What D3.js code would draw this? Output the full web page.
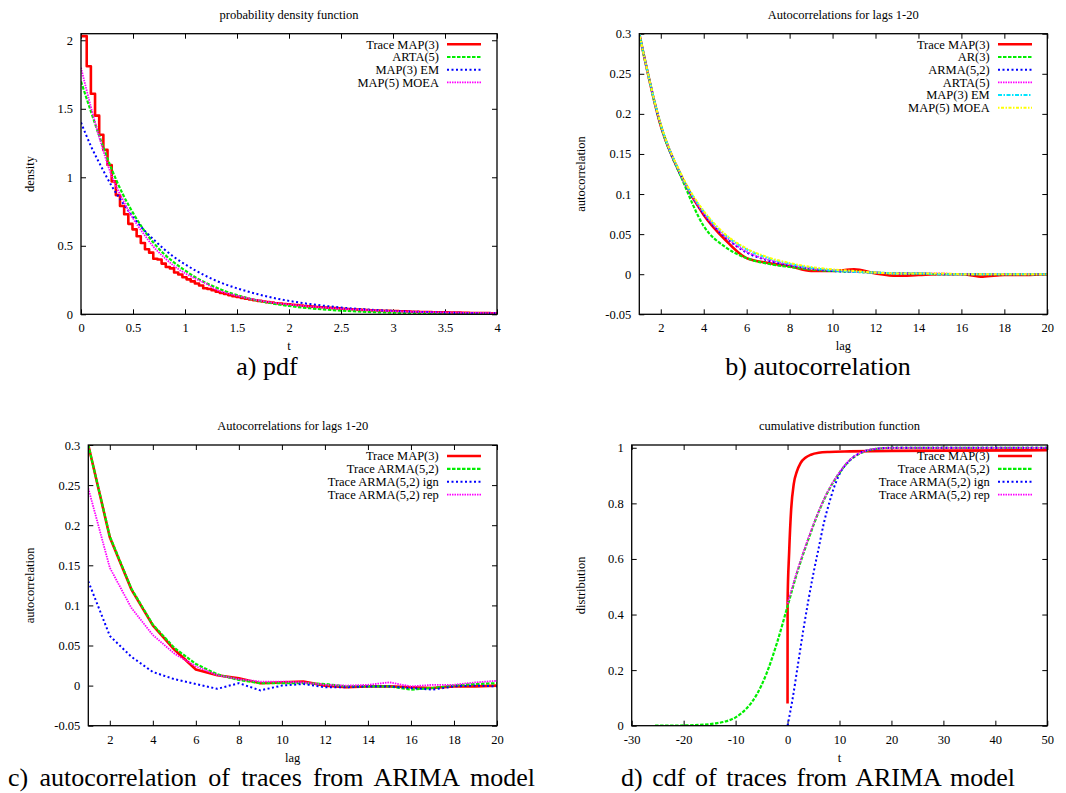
<!DOCTYPE html>
<html><head><meta charset="utf-8">
<script src="https://cdn.jsdelivr.net/npm/d3@7"></script>
<style>
body{margin:0;background:#fff}
svg{display:block}
text{font-family:"Liberation Serif","DejaVu Serif","Times New Roman",serif;font-size:12.5px;fill:#000}
text.caption{font-size:26px}
</style>
</head><body>
<svg id="c" width="1066" height="793"></svg>
<script>
// ---------- a) pdf ----------
const pdfTraceFirstEdge = 0.055, pdfTraceBinWidth = 0.04;
const pdfTraceMAP3 = [2.03,1.81,1.61,1.45,1.31,1.20,1.09,0.97,0.87,0.79,0.73,0.66,0.62,0.57,0.52,0.475,0.45,0.405,0.40,0.37,
  0.345,0.335,0.305,0.29,0.27,0.255,0.24,0.225,0.21,0.19,0.185,0.175,0.165,0.155,0.148,0.14,0.132,0.127,0.12,0.114,
  0.108,0.103,0.098,0.093,0.089,0.085,0.081,0.078,0.075,0.073,0.07,0.067,0.064,0.061,0.058,0.056,0.053,0.051,0.049,0.047,
  0.045,0.043,0.041,0.039,0.037,0.035,0.034,0.032,0.031,0.029,0.028,0.027,0.026,0.025,0.024,0.023,0.022,0.021,0.02,0.019,
  0.018,0.017,0.017,0.016,0.015,0.015,0.014,0.014,0.013,0.012,0.012,0.011,0.011,0.01,0.01,0.009,0.009,0.009,0.008,0.008];
const pdfT =        [0,0.1,0.2,0.3,0.4,0.5,0.6,0.7,0.8,0.9,1.0,1.1,1.2,1.3,1.4,1.5,1.6,1.7,1.8,1.9,2.0,2.2,2.4,2.6,2.8,3.0,3.2,3.4,3.6,3.8,4.0];
const pdfARTA5 =    [1.70,1.47,1.25,1.05,0.88,0.74,0.62,0.52,0.44,0.375,0.32,0.27,0.23,0.195,0.165,0.14,0.118,0.10,0.085,0.072,0.061,0.044,0.032,0.023,0.016,0.012,0.008,0.006,0.004,0.003,0.002];
const pdfMAP3EM =   [1.40,1.22,1.07,0.93,0.815,0.71,0.62,0.545,0.475,0.415,0.365,0.32,0.28,0.245,0.215,0.19,0.167,0.147,0.128,0.112,0.098,0.075,0.057,0.043,0.033,0.025,0.019,0.015,0.011,0.009,0.007];
const pdfMAP5MOEA = [1.80,1.50,1.23,1.00,0.84,0.70,0.59,0.49,0.415,0.35,0.30,0.26,0.225,0.18,0.155,0.135,0.118,0.103,0.09,0.08,0.072,0.057,0.045,0.036,0.029,0.023,0.018,0.015,0.012,0.01,0.008];

// ---------- b) autocorrelation ----------
const lags = [1,2,3,4,5,6,7,8,9,10,11,12,13,14,15,16,17,18,19,20];
const acfTraceMAP3 = [0.300,0.185,0.120,0.074,0.043,0.020,0.014,0.010,0.004,0.004,0.006,0.001,-0.002,-0.001,0.000,0.000,-0.003,-0.001,-0.001,0.000];
const acfAR3 =       [0.300,0.185,0.118,0.060,0.034,0.020,0.013,0.009,0.006,0.004,0.003,0.002,0.001,0.001,0.000,0.000,0.000,0.000,0.000,0.000];
const acfARMA52 =    [0.300,0.186,0.120,0.075,0.046,0.027,0.017,0.011,0.007,0.004,0.003,0.002,0.001,0.001,0.000,0.000,0.000,0.000,0.000,0.000];
const acfARTA5 =     [0.300,0.186,0.120,0.076,0.047,0.028,0.018,0.012,0.007,0.005,0.003,0.002,0.001,0.001,0.001,0.000,0.000,0.000,0.000,0.000];
const acfMAP3EM =    [0.300,0.187,0.121,0.078,0.049,0.031,0.020,0.013,0.008,0.005,0.003,0.002,0.001,0.001,0.000,0.000,0.000,0.000,0.000,0.000];
const acfMAP5MOEA =  [0.300,0.187,0.122,0.079,0.050,0.032,0.021,0.014,0.009,0.006,0.004,0.002,0.001,0.001,0.001,0.000,0.000,0.000,0.000,0.000];

// ---------- c) autocorrelation of ARIMA traces ----------
const acfcTraceMAP3 =  [0.300,0.185,0.120,0.075,0.045,0.020,0.013,0.009,0.003,0.004,0.005,0.000,-0.002,-0.001,-0.001,-0.002,-0.003,-0.001,-0.001,0.000];
const acfcTraceARMA52 =[0.300,0.186,0.121,0.076,0.047,0.027,0.014,0.007,0.003,0.003,0.003,0.002,-0.001,-0.001,-0.001,-0.005,-0.003,0.000,0.002,0.003];
const acfcIgn =        [0.130,0.062,0.036,0.017,0.008,0.002,-0.004,0.003,-0.006,0.000,0.002,-0.002,-0.002,-0.001,-0.001,-0.003,-0.005,-0.001,0.000,-0.001];
const acfcRep =        [0.246,0.147,0.097,0.063,0.040,0.024,0.013,0.008,0.005,0.005,0.004,0.001,0.000,0.001,0.004,-0.001,0.001,0.001,0.004,0.006];

// ---------- d) cdf of ARIMA traces ----------
const cdfTraceMAP3T = [0,0.01,0.3,0.7,1.2,1.8,2.5,3.5,4.5,6,8,12,20,50];
const cdfTraceMAP3 =  [0.08,0.45,0.62,0.78,0.87,0.915,0.945,0.965,0.975,0.982,0.985,0.987,0.989,0.991];
const cdfARMA52T = [-25.5,-22,-20,-18,-16,-14,-12,-10,-8,-6,-4,-2,0,2,4,6,8,10,12,14,16,18,20,25,50];
const cdfARMA52 =  [0,0.0005,0.001,0.002,0.004,0.008,0.015,0.03,0.06,0.11,0.19,0.3,0.43,0.56,0.67,0.77,0.85,0.91,0.955,0.98,0.993,0.998,1.0,1.0,1.0];
const cdfIgnT = [0,1,2,3,4,5,6,7,8,9,10,12,14,16,18,20,50];
const cdfIgn =  [0,0.1,0.22,0.34,0.45,0.55,0.64,0.73,0.8,0.86,0.905,0.955,0.982,0.993,0.998,1.0,1.0];
const cdfRepT = [0,2,4,6,8,10,12,14,16,18,20,25,50];
const cdfRep =  [0.44,0.565,0.675,0.772,0.852,0.912,0.957,0.981,0.994,0.998,1.0,1.0,1.0];

// ---------- styles ----------
const ST = {
  red:    {stroke:"#ff0000", w:2.6, dash:null},
  green:  {stroke:"#00ee00", w:2.2, dash:"3.5,1.5"},
  blue:   {stroke:"#0000ff", w:2.0, dash:"2,2.5"},
  magenta:{stroke:"#ff00ff", w:1.8, dash:"1.5,1"},
  cyan:   {stroke:"#00e5ff", w:2.0, dash:"4,1.5,1.5,1.5"},
  yellow: {stroke:"#ffff00", w:2.0, dash:"1.5,1.5,3,1.5"}
};

const svg = d3.select("#c");
const fmt = d => String(+d.toFixed(4));
const FONT = '"Liberation Serif","DejaVu Serif","Times New Roman",serif';

function panel(cfg){
  const g = svg.append("g");
  const x = d3.scaleLinear().domain(cfg.xDomain).range([cfg.left, cfg.right]);
  const y = d3.scaleLinear().domain(cfg.yDomain).range([cfg.bottom, cfg.top]);
  const clipId = "clip" + cfg.id;
  svg.append("clipPath").attr("id", clipId).append("rect")
    .attr("x", cfg.left).attr("y", cfg.top).attr("width", cfg.right - cfg.left).attr("height", cfg.bottom - cfg.top);

  const fixAxis = sel => { sel.attr("font-family", FONT).attr("font-size", null); sel.select(".domain").remove(); sel.selectAll("line").attr("stroke","#000"); };
  g.append("g").attr("transform", `translate(0,${cfg.bottom})`)
    .call(d3.axisBottom(x).tickValues(cfg.xTicks).tickSize(-5).tickPadding(9).tickFormat(fmt)).call(fixAxis);
  g.append("g").attr("transform", `translate(0,${cfg.top})`)
    .call(d3.axisTop(x).tickValues(cfg.xTicks).tickSize(-5).tickFormat("")).call(fixAxis);
  g.append("g").attr("transform", `translate(${cfg.left},0)`)
    .call(d3.axisLeft(y).tickValues(cfg.yTicks).tickSize(-5).tickPadding(8).tickFormat(fmt)).call(fixAxis);
  g.append("g").attr("transform", `translate(${cfg.right},0)`)
    .call(d3.axisRight(y).tickValues(cfg.yTicks).tickSize(-5).tickFormat("")).call(fixAxis);

  const cx = (cfg.left + cfg.right) / 2, cy = (cfg.top + cfg.bottom) / 2;
  g.append("text").attr("x", cx).attr("y", cfg.top - 15).attr("text-anchor","middle").text(cfg.title);
  g.append("text").attr("x", cx).attr("y", cfg.bottom + 36).attr("text-anchor","middle").text(cfg.xlabel);
  g.append("text").attr("transform", `translate(${cfg.ylabelX},${cy}) rotate(-90)`).attr("text-anchor","middle").text(cfg.ylabel);

  const plot = g.append("g").attr("clip-path", `url(#${clipId})`);
  cfg.series.forEach(s => {
    const line = d3.line().x(d => x(d[0])).y(d => y(d[1])).curve(s.curve || d3.curveLinear);
    plot.append("path").datum(s.data).attr("d", line)
      .attr("fill","none").attr("stroke", s.style.stroke).attr("stroke-width", s.style.w)
      .attr("stroke-dasharray", s.style.dash).attr("stroke-linejoin","round");
  });

  g.append("rect").attr("x", cfg.left).attr("y", cfg.top).attr("width", cfg.right - cfg.left).attr("height", cfg.bottom - cfg.top)
    .attr("fill","none").attr("stroke","#000").attr("stroke-width",1.3);

  const L = cfg.legend;
  cfg.series.forEach((s, i) => {
    const ly = L.y0 + i * L.dy;
    g.append("text").attr("x", L.textX).attr("y", ly).attr("dy","0.35em").attr("text-anchor","end").text(s.name);
    g.append("line").attr("x1", L.x1).attr("x2", L.x2).attr("y1", ly).attr("y2", ly)
      .attr("stroke", s.style.stroke).attr("stroke-width", s.style.w).attr("stroke-dasharray", s.style.dash);
  });

  const cap = svg.append("text").attr("class","caption").attr("y", cfg.caption.y).text(cfg.caption.text);
  if (cfg.caption.x2 !== undefined) {
    cap.attr("x", cfg.caption.x1).attr("text-anchor","start");
    const natural = cap.node().getComputedTextLength();
    const spaces = cfg.caption.text.split(" ").length - 1;
    cap.style("word-spacing", ((cfg.caption.x2 - cfg.caption.x1 - natural) / spaces) + "px");
  } else {
    cap.attr("x", cfg.caption.cx).attr("text-anchor","middle");
  }
}

const zip = (a, b) => a.map((v, i) => [v, b[i]]);
const pdfTraceSteps = pdfTraceMAP3.map((v, k) => [k === 0 ? 0 : pdfTraceFirstEdge + pdfTraceBinWidth * (k - 1), v]);
pdfTraceSteps.push([pdfTraceFirstEdge + pdfTraceBinWidth * (pdfTraceMAP3.length - 1), pdfTraceMAP3[pdfTraceMAP3.length - 1]]);

panel({
  id:"a", left:81, right:497, top:33.7, bottom:314.3,
  xDomain:[0,4], yDomain:[0,2.048],
  xTicks:[0,0.5,1,1.5,2,2.5,3,3.5,4], yTicks:[0,0.5,1,1.5,2],
  title:"probability density function", xlabel:"t", ylabel:"density", ylabelX:34,
  legend:{textX:439, x1:447, x2:481, y0:44.3, dy:12.7},
  caption:{text:"a) pdf", cx:267, y:375},
  series:[
    {name:"Trace MAP(3)", style:ST.red, data:pdfTraceSteps, curve:d3.curveStepAfter},
    {name:"ARTA(5)", style:ST.green, data:zip(pdfT, pdfARTA5), curve:d3.curveMonotoneX},
    {name:"MAP(3) EM", style:ST.blue, data:zip(pdfT, pdfMAP3EM), curve:d3.curveMonotoneX},
    {name:"MAP(5) MOEA", style:ST.magenta, data:zip(pdfT, pdfMAP5MOEA), curve:d3.curveMonotoneX}
  ]
});

const acfTicksY = [-0.05,0,0.05,0.1,0.15,0.2,0.25,0.3];
const lagTicks = [2,4,6,8,10,12,14,16,18,20];

panel({
  id:"b", left:639.3, right:1047.3, top:33.7, bottom:314.3,
  xDomain:[1,20], yDomain:[-0.05,0.3],
  xTicks:lagTicks, yTicks:acfTicksY,
  title:"Autocorrelations for lags 1-20", xlabel:"lag", ylabel:"autocorrelation", ylabelX:585,
  legend:{textX:989.7, x1:998, x2:1032, y0:44.3, dy:12.7},
  caption:{text:"b) autocorrelation", cx:818, y:375},
  series:[
    {name:"Trace MAP(3)", style:ST.red, data:zip(lags, acfTraceMAP3), curve:d3.curveMonotoneX},
    {name:"AR(3)", style:ST.green, data:zip(lags, acfAR3), curve:d3.curveMonotoneX},
    {name:"ARMA(5,2)", style:ST.blue, data:zip(lags, acfARMA52), curve:d3.curveMonotoneX},
    {name:"ARTA(5)", style:ST.magenta, data:zip(lags, acfARTA5), curve:d3.curveMonotoneX},
    {name:"MAP(3) EM", style:ST.cyan, data:zip(lags, acfMAP3EM), curve:d3.curveMonotoneX},
    {name:"MAP(5) MOEA", style:ST.yellow, data:zip(lags, acfMAP5MOEA), curve:d3.curveMonotoneX}
  ]
});

panel({
  id:"c", left:88.3, right:497, top:445, bottom:725.7,
  xDomain:[1,20], yDomain:[-0.05,0.3],
  xTicks:lagTicks, yTicks:acfTicksY,
  title:"Autocorrelations for lags 1-20", xlabel:"lag", ylabel:"autocorrelation", ylabelX:34,
  legend:{textX:438.7, x1:447, x2:481, y0:456, dy:12.9},
  caption:{text:"c) autocorrelation of traces from ARIMA model", x1:8, x2:535, y:786},
  series:[
    {name:"Trace MAP(3)", style:ST.red, data:zip(lags, acfcTraceMAP3)},
    {name:"Trace ARMA(5,2)", style:ST.green, data:zip(lags, acfcTraceARMA52)},
    {name:"Trace ARMA(5,2) ign", style:ST.blue, data:zip(lags, acfcIgn)},
    {name:"Trace ARMA(5,2) rep", style:ST.magenta, data:zip(lags, acfcRep)}
  ]
});

panel({
  id:"d", left:631.7, right:1047.3, top:445, bottom:725.7,
  xDomain:[-30,50], yDomain:[0,1.01],
  xTicks:[-30,-20,-10,0,10,20,30,40,50], yTicks:[0,0.2,0.4,0.6,0.8,1],
  title:"cumulative distribution function", xlabel:"t", ylabel:"distribution", ylabelX:585,
  legend:{textX:989.7, x1:998, x2:1032, y0:456, dy:12.9},
  caption:{text:"d) cdf of traces from ARIMA model", x1:621, x2:1015, y:786},
  series:[
    {name:"Trace MAP(3)", style:ST.red, data:zip(cdfTraceMAP3T, cdfTraceMAP3), curve:d3.curveMonotoneX},
    {name:"Trace ARMA(5,2)", style:ST.green, data:zip(cdfARMA52T, cdfARMA52), curve:d3.curveMonotoneX},
    {name:"Trace ARMA(5,2) ign", style:ST.blue, data:zip(cdfIgnT, cdfIgn), curve:d3.curveMonotoneX},
    {name:"Trace ARMA(5,2) rep", style:ST.magenta, data:zip(cdfRepT, cdfRep), curve:d3.curveMonotoneX}
  ]
});
</script>
</body></html>
